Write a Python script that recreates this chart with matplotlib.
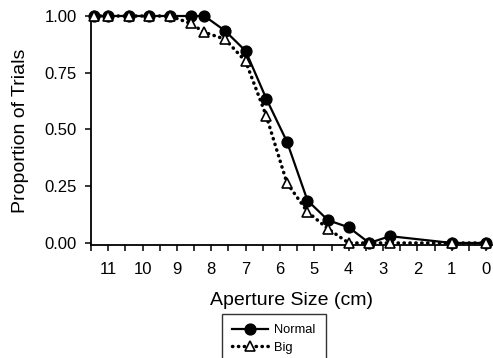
import numpy as np
import matplotlib
matplotlib.use("Agg")
import matplotlib.pyplot as plt
from matplotlib.ticker import MultipleLocator, FormatStrFormatter

plt.rcParams['font.family'] = ['Liberation Sans', 'DejaVu Sans']

# aperture sizes (cm) and proportion of trials
aperture = [11.4, 11.0, 10.4, 9.8, 9.2, 8.6, 8.2, 7.6, 7.0, 6.4, 5.8, 5.2, 4.6, 4.0, 3.4, 2.8, 1.0, 0.0]
normal = [1.0, 1.0, 1.0, 1.0, 1.0, 1.0, 1.0, 0.935, 0.846, 0.636, 0.447, 0.187, 0.10, 0.069, 0.0, 0.03, 0.0, 0.0]
big = [1.0, 1.0, 1.0, 1.0, 1.0, 0.967, 0.928, 0.898, 0.80, 0.56, 0.265, 0.137, 0.062, 0.0, 0.0, 0.0, 0.0, 0.0]

fig = plt.figure(figsize=(4.93, 3.58), dpi=100)
ax = fig.add_axes([0.1846, 0.3156, 0.8134, 0.6397])

ax.plot(aperture, normal, color='black', lw=1.6, marker='o', ms=7.8,
        mfc='black', mec='black', label='Normal', clip_on=False, zorder=3)
ax.plot(aperture, big, color='black', lw=2.5, linestyle=(0, (0.1, 1.6)),
        dash_capstyle='round', marker='^', ms=7.8, mfc='white', mec='black',
        mew=1.2, label='Big', clip_on=False, zorder=4)

ax.set_xlim(11.5, -0.17)
ax.set_ylim(-0.009, 1.0)
ax.xaxis.set_major_locator(MultipleLocator(1))
ax.xaxis.set_minor_locator(MultipleLocator(0.5))
ax.yaxis.set_major_locator(MultipleLocator(0.25))
ax.yaxis.set_major_formatter(FormatStrFormatter('%.2f'))
ax.xaxis.set_major_formatter(FormatStrFormatter('%d'))

for s in ['top', 'right']:
    ax.spines[s].set_visible(False)
for s in ['left', 'bottom']:
    ax.spines[s].set_linewidth(1.3)

ax.tick_params(axis='both', which='both', direction='out', length=4, width=1.1,
               labelsize=12, colors='black')
ax.tick_params(axis='x', pad=8)
ax.tick_params(axis='y', pad=6)

ax.set_xlabel('Aperture Size (cm)', fontsize=14, labelpad=11)
ax.set_ylabel('Proportion of Trials', fontsize=14, labelpad=11)

leg = fig.legend(loc='upper left', bbox_to_anchor=(0.45, 0.123),
                 bbox_transform=fig.transFigure, fontsize=9.3, frameon=True,
                 fancybox=False, edgecolor='black', handlelength=2.8,
                 labelspacing=0.4, borderpad=0.8, handletextpad=0.45,
                 borderaxespad=0)
leg.get_frame().set_linewidth(1.0)

fig.savefig('out.png', dpi=100)
